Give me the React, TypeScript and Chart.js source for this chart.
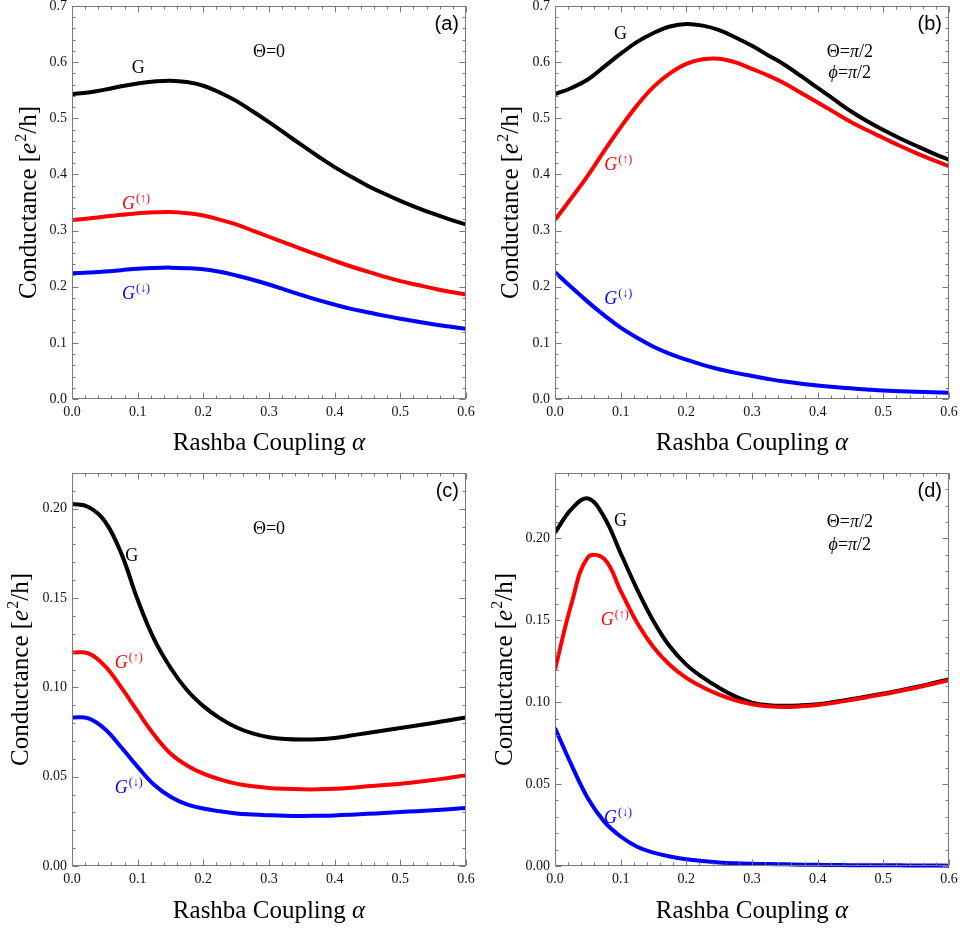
import React, { useEffect, useRef } from 'react';
import { Chart, registerables } from 'chart.js';

Chart.register(...registerables);

// ---------- data ----------
// Rashba coupling α (shared sample grid for every curve)
const alpha = [
  0, 0.025, 0.05, 0.075, 0.1, 0.125, 0.15, 0.175, 0.2, 0.225, 0.25, 0.275, 0.3,
  0.325, 0.35, 0.375, 0.4, 0.425, 0.45, 0.475, 0.5, 0.525, 0.55, 0.575, 0.6,
];

// Panel (a): Θ=0
const gA = [0.543, 0.546, 0.551, 0.557, 0.562, 0.5655, 0.567, 0.5645, 0.558, 0.546, 0.531, 0.5125, 0.493, 0.4725, 0.452, 0.432, 0.413, 0.396, 0.38, 0.366, 0.353, 0.341, 0.33, 0.32, 0.311];
const gUpA = [0.319, 0.3215, 0.325, 0.328, 0.331, 0.3325, 0.333, 0.331, 0.327, 0.3195, 0.311, 0.3, 0.289, 0.278, 0.267, 0.2565, 0.246, 0.236, 0.227, 0.218, 0.21, 0.2035, 0.197, 0.191, 0.186];
const gDnA = [0.224, 0.2253, 0.227, 0.2295, 0.232, 0.2335, 0.234, 0.233, 0.231, 0.2265, 0.22, 0.2125, 0.204, 0.1945, 0.185, 0.176, 0.168, 0.1605, 0.1545, 0.1485, 0.143, 0.138, 0.133, 0.129, 0.125];

// Panel (b): Θ=π/2, ϕ=π/2
const gB = [0.543, 0.554, 0.569, 0.592, 0.615, 0.636, 0.652, 0.6635, 0.668, 0.665, 0.657, 0.644, 0.629, 0.612, 0.595, 0.575, 0.554, 0.5335, 0.513, 0.495, 0.479, 0.4645, 0.451, 0.438, 0.426];
const gUpB = [0.319, 0.358, 0.398, 0.442, 0.484, 0.523, 0.556, 0.58, 0.597, 0.605, 0.606, 0.5995, 0.588, 0.576, 0.562, 0.545, 0.528, 0.511, 0.494, 0.479, 0.465, 0.451, 0.438, 0.426, 0.415];
const gDnB = [0.226, 0.199, 0.173, 0.149, 0.127, 0.109, 0.093, 0.0805, 0.07, 0.0608, 0.053, 0.0465, 0.041, 0.0357, 0.031, 0.0273, 0.024, 0.0213, 0.019, 0.0169, 0.015, 0.0139, 0.0128, 0.012, 0.011];

// Panel (c): Θ=0
const gC = [0.2027, 0.201, 0.193, 0.175, 0.149, 0.127, 0.111, 0.0985, 0.0895, 0.0828, 0.0777, 0.0742, 0.0721, 0.0711, 0.0708, 0.071, 0.0717, 0.073, 0.0745, 0.0759, 0.0773, 0.0787, 0.0801, 0.0816, 0.0832];
const gUpC = [0.1195, 0.119, 0.112, 0.1, 0.0865, 0.0735, 0.063, 0.0563, 0.0517, 0.0485, 0.0461, 0.0446, 0.0437, 0.0432, 0.0429, 0.0429, 0.0432, 0.0438, 0.0446, 0.0453, 0.0461, 0.047, 0.0481, 0.0494, 0.0507];
const gDnC = [0.0832, 0.0826, 0.0767, 0.0665, 0.0555, 0.0455, 0.0388, 0.0345, 0.0322, 0.0306, 0.0294, 0.0288, 0.0284, 0.0281, 0.028, 0.0281, 0.0283, 0.0287, 0.0292, 0.0297, 0.0302, 0.0307, 0.0312, 0.0318, 0.0325];

// Panel (d): Θ=π/2, ϕ=π/2
const gD = [0.2036, 0.218, 0.2245, 0.213, 0.191, 0.169, 0.1495, 0.134, 0.123, 0.1152, 0.1088, 0.1035, 0.0998, 0.0982, 0.0978, 0.0981, 0.0988, 0.1002, 0.1018, 0.1035, 0.1053, 0.1072, 0.1093, 0.1116, 0.114];
const gUpD = [0.12, 0.16, 0.1885, 0.1875, 0.168, 0.1485, 0.1336, 0.1228, 0.1149, 0.1092, 0.1047, 0.1012, 0.0988, 0.0975, 0.0971, 0.0975, 0.0983, 0.0997, 0.1013, 0.1031, 0.1049, 0.1069, 0.1089, 0.1111, 0.1135];
const gDnD = [0.0843, 0.0618, 0.0414, 0.0271, 0.018, 0.0118, 0.0082, 0.0058, 0.0041, 0.003, 0.0022, 0.0017, 0.0014, 0.0012, 0.001, 0.0008, 0.0007, 0.0006, 0.0005, 0.0005, 0.0004, 0.0004, 0.0003, 0.0003, 0.0002];

const xTicksMax = 0.6;
const xTitle = 'Rashba Coupling ';
const yTitle = 'Conductance [';

// ---------- styles ----------
const SERIF = '"Liberation Serif", "Times New Roman", "DejaVu Serif", serif';
const SANS = '"Liberation Sans", Arial, Helvetica, sans-serif';
const BLACK = '#000000';
const RED = '#ff0000';
const BLUE = '#0000ff';
const FRAME = '#7a7a7a';

type Part = { t: string; italic?: boolean; sup?: boolean };

const partsG: Part[] = [{ t: 'G' }];
const partsUp: Part[] = [{ t: 'G', italic: true }, { t: '(↑)', sup: true }];
const partsDn: Part[] = [{ t: 'G', italic: true }, { t: '(↓)', sup: true }];
const partsTheta0: Part[] = [{ t: 'Θ=0' }];
const partsThetaPi: Part[] = [{ t: 'Θ=' }, { t: 'π', italic: true }, { t: '/2' }];
const partsPhiPi: Part[] = [{ t: 'ϕ', italic: true }, { t: '=' }, { t: 'π', italic: true }, { t: '/2' }];

function fontStr(size: number, italic: boolean | undefined, family: string) {
  return `${italic ? 'italic ' : ''}${size}px ${family}`;
}

function drawParts(
  ctx: CanvasRenderingContext2D,
  parts: Part[],
  x: number,
  y: number,
  size: number,
  supSize: number,
  rise: number,
  align: string,
  color: string,
  family = SERIF
) {
  let w = 0;
  for (const p of parts) {
    ctx.font = fontStr(p.sup ? supSize : size, p.italic, family);
    w += ctx.measureText(p.t).width + (p.sup ? 1 : 0);
  }
  let cx = align === 'center' ? x - w / 2 : align === 'right' ? x - w : x;
  ctx.fillStyle = color;
  ctx.textAlign = 'left';
  ctx.textBaseline = 'alphabetic';
  for (const p of parts) {
    ctx.font = fontStr(p.sup ? supSize : size, p.italic, family);
    if (p.sup) cx += 1;
    ctx.fillText(p.t, cx, p.sup ? y - rise : y);
    cx += ctx.measureText(p.t).width;
  }
}

type Note = { parts: Part[]; x: number; y: number; color: string; align: string };

interface PanelCfg {
  tag: string;
  left: number;
  top: number;
  width: number;
  height: number;
  area: { left: number; right: number; top: number; bottom: number };
  yMax: number;
  yStep: number;
  yDigits: number;
  yTitleGap: number;
  xTitleGap: number;
  g: number[];
  up: number[];
  dn: number[];
  notes: Note[];
}

const panels: PanelCfg[] = [
  {
    tag: '(a)', left: 0, top: 0, width: 480, height: 465,
    area: { left: 72, right: 466, top: 6, bottom: 399 },
    yMax: 0.7, yStep: 0.1, yDigits: 1, yTitleGap: 36, xTitleGap: 51,
    g: gA, up: gUpA, dn: gDnA,
    notes: [
      { parts: partsG, x: 0.091, y: 0.581, color: BLACK, align: 'left' },
      { parts: partsTheta0, x: 0.3, y: 0.609, color: BLACK, align: 'center' },
      { parts: partsUp, x: 0.076, y: 0.338, color: RED, align: 'left' },
      { parts: partsDn, x: 0.076, y: 0.178, color: BLUE, align: 'left' },
    ],
  },
  {
    tag: '(b)', left: 480, top: 0, width: 480, height: 465,
    area: { left: 75, right: 469, top: 6, bottom: 399 },
    yMax: 0.7, yStep: 0.1, yDigits: 1, yTitleGap: 37, xTitleGap: 51,
    g: gB, up: gUpB, dn: gDnB,
    notes: [
      { parts: partsG, x: 0.09, y: 0.641, color: BLACK, align: 'left' },
      { parts: partsUp, x: 0.075, y: 0.408, color: RED, align: 'left' },
      { parts: partsDn, x: 0.075, y: 0.169, color: BLUE, align: 'left' },
      { parts: partsThetaPi, x: 0.449, y: 0.609, color: BLACK, align: 'center' },
      { parts: partsPhiPi, x: 0.449, y: 0.572, color: BLACK, align: 'center' },
    ],
  },
  {
    tag: '(c)', left: 0, top: 465, width: 480, height: 466,
    area: { left: 72, right: 466, top: 8, bottom: 401 },
    yMax: 0.22, yStep: 0.05, yDigits: 2, yTitleGap: 44, xTitleGap: 52,
    g: gC, up: gUpC, dn: gDnC,
    notes: [
      { parts: partsTheta0, x: 0.3, y: 0.186, color: BLACK, align: 'center' },
      { parts: partsG, x: 0.081, y: 0.171, color: BLACK, align: 'left' },
      { parts: partsUp, x: 0.065, y: 0.111, color: RED, align: 'left' },
      { parts: partsDn, x: 0.065, y: 0.0407, color: BLUE, align: 'left' },
    ],
  },
  {
    tag: '(d)', left: 480, top: 465, width: 480, height: 466,
    area: { left: 75, right: 469, top: 8, bottom: 401 },
    yMax: 0.24, yStep: 0.05, yDigits: 2, yTitleGap: 43, xTitleGap: 52,
    g: gD, up: gUpD, dn: gDnD,
    notes: [
      { parts: partsG, x: 0.09, y: 0.2075, color: BLACK, align: 'left' },
      { parts: partsUp, x: 0.0696, y: 0.147, color: RED, align: 'left' },
      { parts: partsDn, x: 0.0746, y: 0.0263, color: BLUE, align: 'left' },
      { parts: partsThetaPi, x: 0.449, y: 0.207, color: BLACK, align: 'center' },
      { parts: partsPhiPi, x: 0.449, y: 0.193, color: BLACK, align: 'center' },
    ],
  },
];

function toPts(xs: number[], ys: number[]) {
  return xs.map((x, i) => ({ x, y: ys[i] }));
}

function makeConfig(cfg: PanelCfg): any {
  const a = cfg.area;
  const decor = {
    id: 'decor',
    afterDatasetsDraw(chart: any) {
      const ctx: CanvasRenderingContext2D = chart.ctx;
      const xs = chart.scales.x;
      const ys = chart.scales.y;
      const ca = chart.chartArea;
      ctx.save();
      ctx.strokeStyle = FRAME;
      ctx.lineWidth = 1;
      const L = Math.round(ca.left) + 0.5;
      const R = Math.round(ca.right) - 0.5;
      const T = Math.round(ca.top) + 0.5;
      const B = Math.round(ca.bottom) - 0.5;
      ctx.strokeRect(L, T, R - L, B - T);
      ctx.beginPath();
      const nx = Math.round(xTicksMax / 0.02);
      for (let i = 0; i <= nx; i++) {
        const px = Math.round(xs.getPixelForValue(i * 0.02)) + 0.5;
        const len = i % 5 === 0 ? 6 : 3;
        ctx.moveTo(px, B);
        ctx.lineTo(px, B - len);
        ctx.moveTo(px, T);
        ctx.lineTo(px, T + len);
      }
      const minor = cfg.yStep / 5;
      const ny = Math.floor(cfg.yMax / minor + 1e-6);
      for (let i = 0; i <= ny; i++) {
        const py = Math.round(ys.getPixelForValue(i * minor)) + 0.5;
        const len = i % 5 === 0 ? 6 : 3;
        ctx.moveTo(L, py);
        ctx.lineTo(L + len, py);
        ctx.moveTo(R, py);
        ctx.lineTo(R - len, py);
      }
      ctx.stroke();
      ctx.restore();
    },
    afterDraw(chart: any) {
      const ctx: CanvasRenderingContext2D = chart.ctx;
      const xs = chart.scales.x;
      const ys = chart.scales.y;
      const ca = chart.chartArea;
      ctx.save();
      for (const n of cfg.notes) {
        drawParts(ctx, n.parts, xs.getPixelForValue(n.x), ys.getPixelForValue(n.y), 18, 12, 7, n.align, n.color);
      }
      ctx.font = `20px ${SANS}`;
      ctx.fillStyle = BLACK;
      ctx.textAlign = 'right';
      ctx.textBaseline = 'alphabetic';
      ctx.fillText(cfg.tag, ca.right - 7, ca.top + 24);
      drawParts(
        ctx,
        [{ t: xTitle }, { t: 'α', italic: true }],
        (ca.left + ca.right) / 2,
        ca.bottom + cfg.xTitleGap,
        25, 16, 10, 'center', BLACK
      );
      ctx.translate(ca.left - cfg.yTitleGap, (ca.top + ca.bottom) / 2);
      ctx.rotate(-Math.PI / 2);
      drawParts(
        ctx,
        [{ t: yTitle }, { t: 'e', italic: true }, { t: '2', sup: true }, { t: '/h]' }],
        0, 0, 25, 16, 10, 'center', BLACK
      );
      ctx.restore();
    },
  };

  const tickFont = { family: SERIF, size: 14 };
  const ds = (data: any, color: string, order: number) => ({
    data,
    borderColor: color,
    backgroundColor: color,
    borderWidth: 4,
    pointRadius: 0,
    fill: false,
    tension: 0.4,
    borderCapStyle: 'butt',
    borderJoinStyle: 'round',
    order,
    clip: { left: 0, right: 0, top: 4, bottom: 4 },
  });

  return {
    type: 'line',
    data: {
      datasets: [
        ds(toPts(alpha, cfg.g), BLACK, 3),
        ds(toPts(alpha, cfg.up), RED, 2),
        ds(toPts(alpha, cfg.dn), BLUE, 1),
      ],
    },
    options: {
      responsive: false,
      animation: false,
      devicePixelRatio: 1,
      events: [],
      layout: { padding: { left: 0, right: cfg.width - a.right, top: a.top, bottom: 0 } },
      plugins: { legend: { display: false }, tooltip: { enabled: false }, title: { display: false } },
      scales: {
        x: {
          type: 'linear',
          min: 0,
          max: xTicksMax,
          grid: { display: false, drawTicks: false },
          border: { display: false },
          ticks: {
            stepSize: 0.1,
            autoSkip: false,
            maxRotation: 0,
            includeBounds: false,
            padding: 5,
            color: '#111',
            font: tickFont,
            callback: (v: number) => v.toFixed(1),
          },
          afterFit(s: any) {
            s.height = cfg.height - a.bottom;
            s.paddingLeft = 0;
            s.paddingRight = 0;
          },
        },
        y: {
          type: 'linear',
          min: 0,
          max: cfg.yMax,
          grid: { display: false, drawTicks: false },
          border: { display: false },
          ticks: {
            stepSize: cfg.yStep,
            autoSkip: false,
            includeBounds: false,
            padding: 5,
            color: '#111',
            font: tickFont,
            callback: (v: number) => v.toFixed(cfg.yDigits),
          },
          afterFit(s: any) {
            s.width = a.left;
            s.paddingTop = 0;
            s.paddingBottom = 0;
          },
        },
      },
    },
    plugins: [decor],
  };
}

function Panel({ cfg }: { cfg: PanelCfg }) {
  const ref = useRef<HTMLCanvasElement>(null);
  useEffect(() => {
    if (!ref.current) return;
    const chart = new Chart(ref.current, makeConfig(cfg));
    return () => chart.destroy();
  }, [cfg]);
  return (
    <canvas
      ref={ref}
      width={cfg.width}
      height={cfg.height}
      style={{ position: 'absolute', left: cfg.left, top: cfg.top, width: cfg.width, height: cfg.height }}
    />
  );
}

export default function App() {
  return (
    <div style={{ position: 'absolute', left: 0, top: 0, width: 960, height: 931, background: '#ffffff', overflow: 'hidden' }}>
      {panels.map((p) => (
        <Panel key={p.tag} cfg={p} />
      ))}
    </div>
  );
}
